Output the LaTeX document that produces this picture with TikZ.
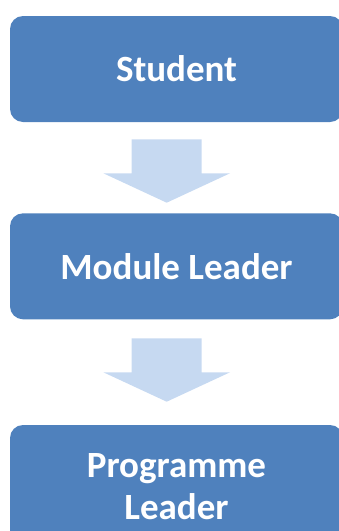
\documentclass[tikz,border=0pt]{standalone}
\usepackage{fontspec}
\setmainfont{Carlito}
\definecolor{boxblue}{HTML}{4F81BD}
\definecolor{arrowblue}{HTML}{C6D9F1}
\begin{document}
\begin{tikzpicture}[x=1pt,y=-1pt,
  stagebox/.style={fill=boxblue, rounded corners=13pt, inner sep=0pt,
    minimum width=333pt, text=white, align=center,
    font=\fontsize{37}{42}\selectfont\bfseries},
  downarrow/.pic={\fill[arrowblue] (-35,0) -- (35,0) -- (35,34) -- (63.3,34)
    -- (0,63.4) -- (-63.3,34) -- (-35,34) -- cycle;}]
\useasboundingbox (0,0) rectangle (339,531);
\clip (0,0) rectangle (339,531);
% the three stages
\node[stagebox, minimum height=106pt] (student) at (176.5,69) {Student};
\node[stagebox, minimum height=106pt] (module) at (176.5,266.3) {Module Leader};
\node[stagebox, minimum height=123pt] (programme) at (176.5,486.5) {Programme\\Leader};
% block arrows between the stages
\pic at (166.7,139.3) {downarrow};
\pic at (166.7,338.3) {downarrow};
\end{tikzpicture}
\end{document}
